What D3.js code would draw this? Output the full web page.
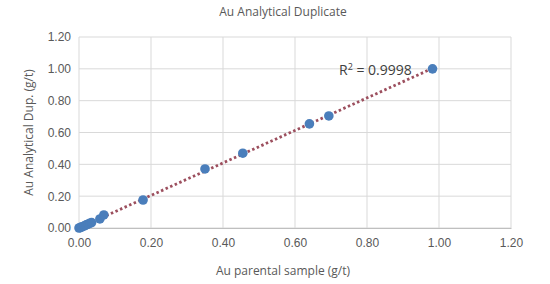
<!DOCTYPE html>
<html>
<head>
<meta charset="utf-8">
<script src="https://cdn.jsdelivr.net/npm/d3@7"></script>
<style>
  body { margin: 0; background: #fff; }
  svg { font-family: "Open Sans", "Liberation Sans", sans-serif; }
</style>
</head>
<body>
<div id="chart"></div>
<script>
const parentValues = [0.000, 0.003, 0.006, 0.010, 0.015, 0.020, 0.025, 0.030, 0.035, 0.058, 0.069, 0.178, 0.350, 0.455, 0.640, 0.694, 0.982];
const duplicateValues = [0.000, 0.002, 0.006, 0.008, 0.014, 0.020, 0.024, 0.030, 0.034, 0.057, 0.082, 0.176, 0.371, 0.470, 0.654, 0.704, 1.000];
const tickValues = [0, 0.2, 0.4, 0.6, 0.8, 1.0, 1.2];
const rSquaredLabel = "0.9998";

const width = 550;
const height = 284;
const margin = { top: 37, right: 39, bottom: 56, left: 79 };

const points = parentValues.map((x, i) => ({ x, y: duplicateValues[i] }));

const svg = d3.select("#chart")
  .append("svg")
  .attr("width", width)
  .attr("height", height);

const x = d3.scaleLinear().domain([0, 1.2]).range([margin.left, width - margin.right]);
const y = d3.scaleLinear().domain([0, 1.2]).range([height - margin.bottom, margin.top]);

// gridlines
svg.append("g")
  .selectAll("line")
  .data(tickValues)
  .join("line")
  .attr("x1", margin.left)
  .attr("x2", width - margin.right)
  .attr("y1", (d) => y(d))
  .attr("y2", (d) => y(d))
  .attr("stroke", "#d9d9d9");

svg.append("g")
  .selectAll("line")
  .data(tickValues)
  .join("line")
  .attr("x1", (d) => x(d))
  .attr("x2", (d) => x(d))
  .attr("y1", margin.top)
  .attr("y2", height - margin.bottom)
  .attr("stroke", "#d9d9d9");

// axes
const xAxis = svg.append("g")
  .attr("transform", `translate(0,${height - margin.bottom})`)
  .call(d3.axisBottom(x).tickValues(tickValues).tickSize(0).tickFormat(d3.format(".2f")));
xAxis.select(".domain").attr("stroke", "#bfbfbf");
xAxis.selectAll(".tick text")
  .attr("dy", "1.35em")
  .attr("fill", "#595959")
  .style("font-size", "12px");

const yAxis = svg.append("g")
  .attr("transform", `translate(${margin.left},0)`)
  .call(d3.axisLeft(y).tickValues(tickValues).tickSize(0).tickFormat(d3.format(".2f")));
yAxis.select(".domain").remove();
yAxis.selectAll(".tick text")
  .attr("x", -8)
  .attr("fill", "#595959")
  .style("font-size", "12px");

// trendline (least squares through the points)
const fit = d3.extent(parentValues);
const mx = d3.mean(parentValues);
const my = d3.mean(duplicateValues);
const slope = d3.sum(points, (d) => (d.x - mx) * (d.y - my)) / d3.sum(points, (d) => (d.x - mx) ** 2);
const intercept = my - slope * mx;

svg.append("line")
  .attr("x1", x(fit[0]))
  .attr("y1", y(intercept + slope * fit[0]))
  .attr("x2", x(fit[1]))
  .attr("y2", y(intercept + slope * fit[1]))
  .attr("stroke", "#9c4f5e")
  .attr("stroke-width", 2.8)
  .attr("stroke-dasharray", "2.5,2.5");

// points
svg.append("g")
  .selectAll("circle")
  .data(points)
  .join("circle")
  .attr("cx", (d) => x(d.x))
  .attr("cy", (d) => y(d.y))
  .attr("r", 4.8)
  .attr("fill", "#4a7ebb");

// R² label
svg.append("text")
  .attr("x", 339)
  .attr("y", 75)
  .attr("fill", "#404040")
  .style("font-size", "14px")
  .html(`R<tspan dy="-5" font-size="9">2</tspan><tspan dy="5"> = ${rSquaredLabel}</tspan>`);

// titles
svg.append("text")
  .attr("x", 283)
  .attr("y", 16)
  .attr("text-anchor", "middle")
  .attr("fill", "#595959")
  .style("font-size", "12px")
  .text("Au Analytical Duplicate");

svg.append("text")
  .attr("x", 283)
  .attr("y", 275)
  .attr("text-anchor", "middle")
  .attr("fill", "#595959")
  .style("font-size", "12px")
  .text("Au parental sample (g/t)");

svg.append("text")
  .attr("transform", `translate(33,${(margin.top + height - margin.bottom) / 2}) rotate(-90)`)
  .attr("text-anchor", "middle")
  .attr("fill", "#595959")
  .style("font-size", "12px")
  .text("Au Analytical Dup. (g/t)");
</script>
</body>
</html>
